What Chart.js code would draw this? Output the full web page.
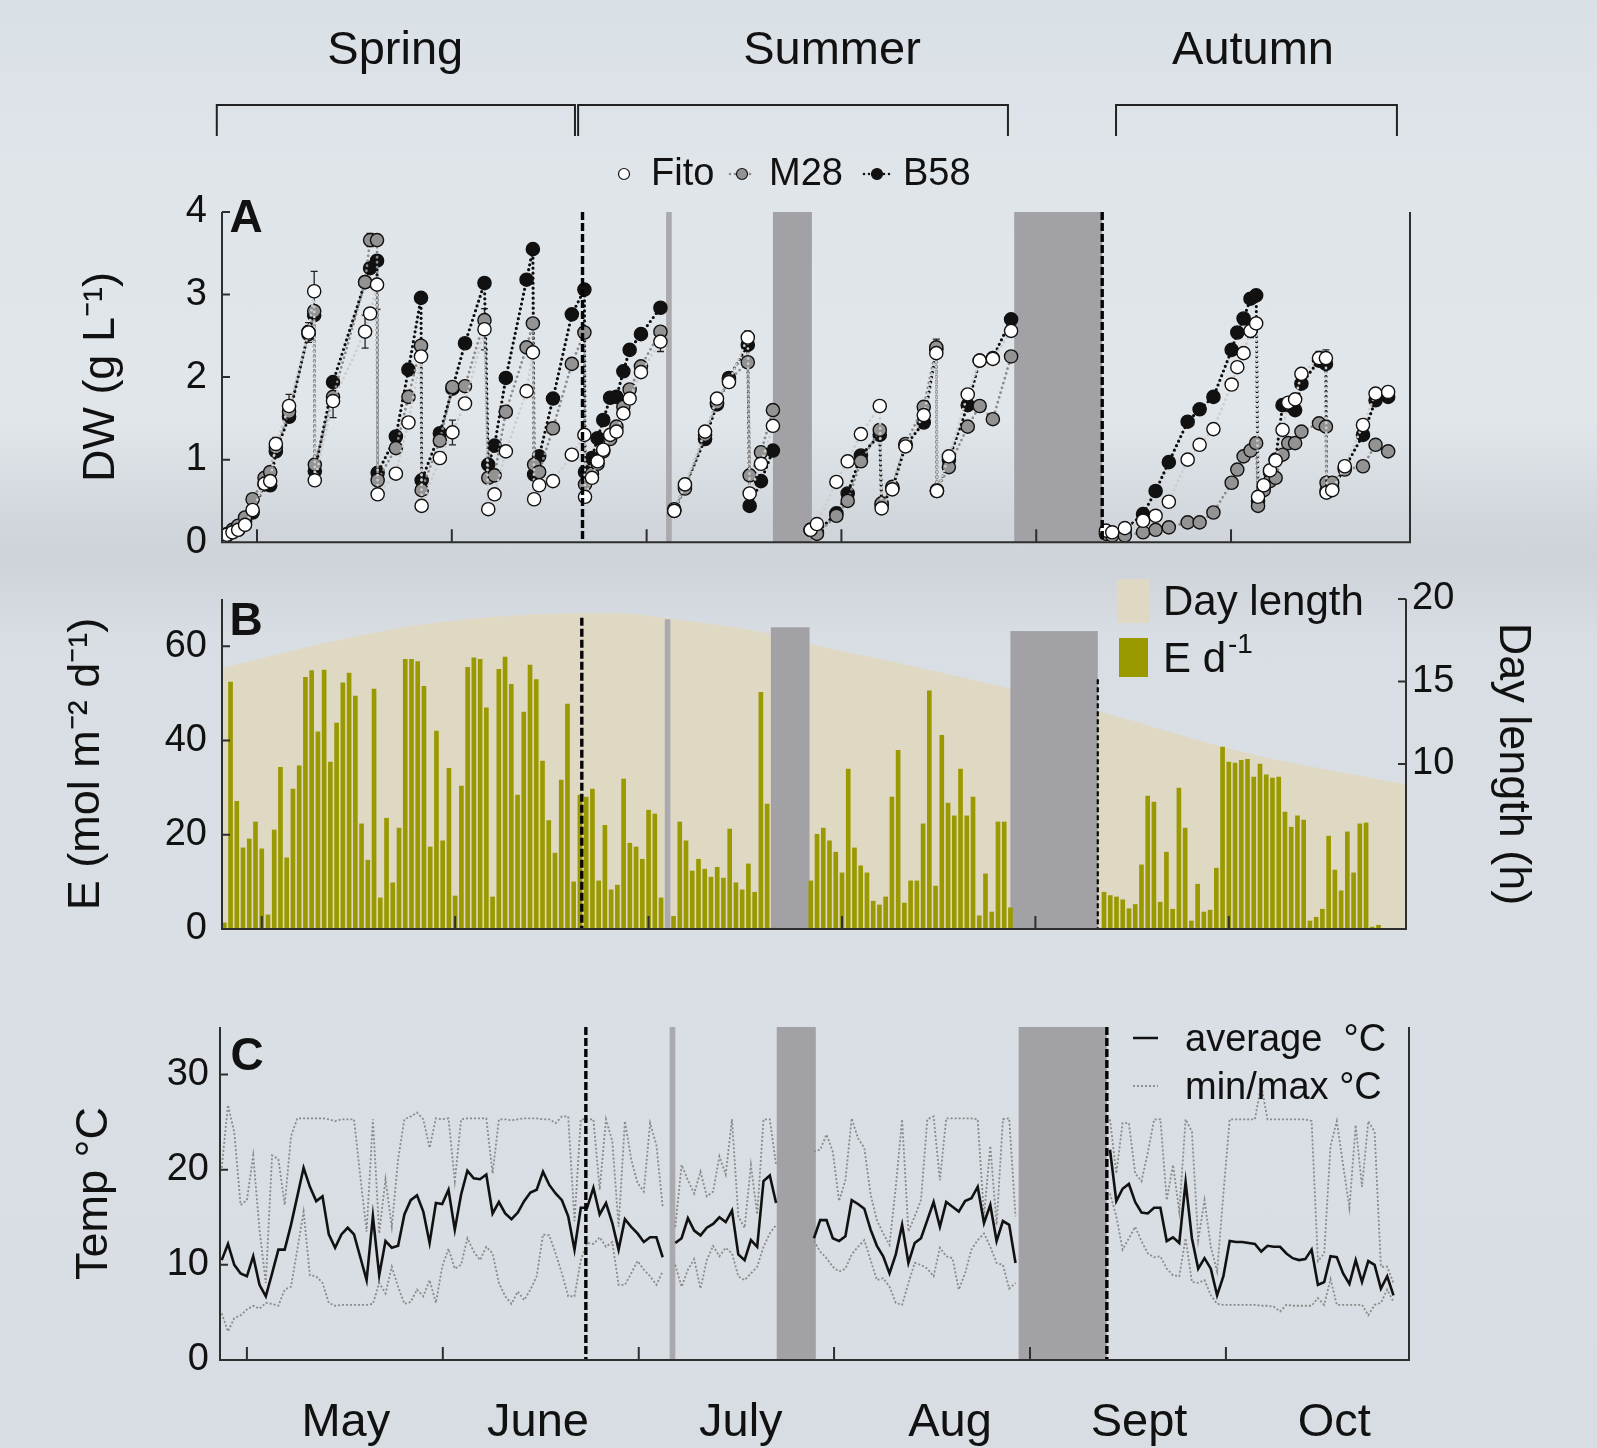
<!DOCTYPE html>
<html>
<head>
<meta charset="utf-8">
<title>DW, daily light and temperature</title>
<script src="https://cdn.jsdelivr.net/npm/chart.js@4.4.1/dist/chart.umd.min.js"></script>
<style>
html,body{margin:0;padding:0;}
body{width:1597px;height:1448px;overflow:hidden;position:relative;
background:linear-gradient(to bottom,#d9e0e6 0px,#e0e5ea 180px,#e1e6eb 420px,#d0d6db 525px,#cdd3d8 560px,#d8dee3 640px,#d9dfe4 1000px,#d7dde2 1448px);}
canvas{position:absolute;left:0;}
</style>
</head>
<body>
<canvas id="cA" width="1597" height="580" style="top:0px;width:1597px;height:580px"></canvas>
<canvas id="cB" width="1597" height="420" style="top:555px;width:1597px;height:420px"></canvas>
<canvas id="cC" width="1597" height="488" style="top:960px;width:1597px;height:488px"></canvas>
<script>
// ================= DATA =================
const seasons = ['Spring', 'Summer', 'Autumn'];
const seasonSpans = [[114.6, 171.6], [172.1, 240.5], [257.7, 302.4]];
const seasonLabelDays = [143.0, 212.5, 279.5];
const months = ['May', 'June', 'July', 'Aug', 'Sept', 'Oct'];
const monthLabelDays = [134.7, 165.2, 197.4, 230.6, 260.6, 291.6];
const monthTicksA = [121, 152, 183, 214, 245, 276];
const monthTicksB = [121.5, 152.5, 183.5, 214.5, 245.5, 276.5];
const monthTicksC = [119.0, 150.1, 181.2, 212.2, 243.3, 274.4];
const gapDays = [[186.1, 187.0], [203.1, 209.3], [241.5, 255.5]];
const gapTopsE = [65.7, 64.0, 63.2];
const dashedDays = [172.8, 255.5];

// Panel A: dry weight (g L-1)
const dwDays = [115.3,116.2,117.1,118.0,119.1,120.3,122.2,123.1,124.0,126.1,
 129.2,130.1,130.2,133.1,138.2,139.0,140.1,140.2,143.1,145.1,
 147.1,147.2,150.1,152.1,154.1,157.2,157.8,158.8,160.6,163.9,
 164.9,165.1,165.9,168.1,171.1,173.1,173.2,174.3,175.2,176.1,
 177.2,178.2,179.3,180.3,182.1,185.2,186.5,187.4,189.1,192.3,
 194.2,196.1,199.1,199.4,201.2,203.1,206.0,209.1,210.1,213.2,
 215.0,217.1,220.1,220.4,222.1,224.2,227.1,229.1,229.2,231.1,
 234.1,236.0,238.1,241.0,248.0,256.1,257.1,259.1,262.0,264.0,
 266.1,269.1,271.0,273.2,276.1,277.0,278.0,279.1,280.0,280.3,
 281.2,282.2,283.1,284.2,285.1,286.2,287.2,290.0,291.1,291.2,
 292.1,294.1,297.0,299.0,301.0];
const fito = [0.06,0.09,0.12,0.15,0.21,0.39,0.71,0.74,1.19,1.65,
 2.54,3.04,0.75,1.71,2.55,2.77,3.12,0.58,0.83,1.45,
 2.25,0.44,1.02,1.33,1.68,2.58,0.40,0.58,1.10,1.83,
 2.30,0.52,0.69,0.74,1.06,1.30,0.55,0.78,0.98,1.12,
 1.30,1.34,1.56,1.74,2.06,2.43,null,0.38,0.70,1.34,
 1.74,1.94,2.48,0.59,0.95,1.41,null,0.15,0.22,0.73,
 0.98,1.31,1.65,0.41,0.64,1.16,1.54,2.29,0.62,1.04,
 1.79,2.20,2.22,2.56,null,0.14,0.12,0.17,0.26,0.32,
 0.49,1.00,1.18,1.37,1.91,2.12,2.29,2.56,2.65,0.55,
 0.69,0.87,0.99,1.36,1.69,1.73,2.04,2.23,2.23,0.60,
 0.63,0.92,1.42,1.80,1.82];
const m28 = [0.06,0.10,0.15,0.20,0.30,0.52,0.78,0.85,1.15,1.58,
 2.52,2.80,0.94,1.76,3.15,3.66,3.66,0.75,1.14,1.76,
 2.38,0.63,1.23,1.88,1.89,2.69,0.78,0.81,1.58,2.36,
 2.65,0.94,0.85,1.38,2.16,2.54,0.70,0.83,0.95,1.10,
 1.25,1.40,1.64,1.85,2.13,2.55,null,0.40,0.65,1.30,
 1.69,1.96,2.18,0.81,1.09,1.60,null,0.15,0.10,0.32,
 0.50,0.98,1.36,0.47,0.67,1.19,1.64,2.36,0.63,0.91,
 1.40,1.65,1.49,2.25,null,0.10,0.08,0.08,0.12,0.15,
 0.18,0.24,0.24,0.36,0.72,0.88,1.04,1.11,1.20,0.44,
 0.63,0.74,0.78,1.06,1.20,1.20,1.34,1.44,1.40,0.72,
 0.72,0.88,0.92,1.18,1.10];
const b58 = [0.05,0.08,0.12,0.15,0.25,0.36,0.70,0.69,1.10,1.52,
 2.55,2.75,0.86,1.94,3.15,3.32,3.41,0.84,1.28,2.09,
 2.96,0.75,1.32,1.86,2.41,3.14,0.94,1.17,1.99,3.18,
 3.55,0.82,1.04,1.74,2.76,3.06,0.85,1.02,1.26,1.48,
 1.75,1.76,2.07,2.33,2.52,2.84,null,0.38,0.68,1.25,
 1.67,1.99,2.39,0.44,0.74,1.11,null,0.15,0.12,0.35,
 0.59,1.05,1.30,0.45,0.65,1.17,1.45,2.33,0.62,1.00,
 1.66,2.20,2.23,2.70,null,0.12,0.10,0.15,0.34,0.62,
 0.97,1.46,1.61,1.76,2.33,2.54,2.71,2.95,2.99,0.50,
 0.65,0.85,1.00,1.66,1.66,1.60,1.92,2.20,2.16,0.62,
 0.65,0.90,1.30,1.72,1.76];
const errFito = [[124.0,0.08],[126.1,0.14],[129.2,0.12],[130.1,0.24],[133.1,0.2],[138.2,0.2],[140.1,0.3],[152.1,0.15],[157.2,0.25],[185.2,0.12],[199.1,0.08],[276.1,0.06],[279.1,0.08],[280.0,0.06],[290.0,0.08],[291.1,0.1],[299.0,0.06],[301.0,0.06]];
const errM28 = [[139.0,0.08],[229.1,0.1]];
const errB58 = [[147.1,0.06],[280.0,0.07]];

// Panel B: daily light E (mol m-2 d-1), one bar per day from eStart
const eStart = 115.5;
const eValues = [1.3,52.4,27.1,17.2,19.1,22.7,17.0,3.0,21.0,34.3,
 15.1,29.7,34.6,53.4,54.8,41.8,54.9,35.4,43.7,52.2,
 54.3,49.4,22.3,14.6,50.9,6.6,23.5,9.8,21.4,57.2,
 57.2,56.7,51.5,17.4,42.0,18.7,34.1,7.0,30.3,55.5,
 57.5,57.2,46.9,6.8,55.1,57.7,51.9,28.4,46.0,56.0,
 52.9,35.6,23.0,16.1,31.6,47.7,10.0,28.4,28.0,29.7,
 10.2,22.0,8.3,9.3,31.8,18.2,17.4,14.8,25.2,24.4,
 6.6,null,2.7,22.7,18.7,12.3,14.8,12.7,11.0,13.1,
 10.8,21.2,9.8,8.3,13.8,7.8,50.2,26.5,0.2,null,
 null,null,null,null,10.2,20.1,21.4,18.7,16.3,11.9,
 33.9,17.2,13.4,11.9,5.9,5.1,6.8,28.0,37.9,5.5,
 10.2,10.2,22.3,50.5,9.1,41.1,26.7,24.0,33.9,24.0,
 28.0,2.8,11.7,3.6,22.7,22.7,4.5,null,null,null,
 null,null,null,null,null,null,null,null,null,null,
 null,7.8,7.1,6.8,6.2,4.3,5.2,13.6,28.2,26.9,
 5.7,16.3,4.2,29.9,21.4,1.7,9.5,3.6,4.0,12.9,
 38.6,35.4,35.2,35.8,36.0,32.2,35.0,32.7,32.0,32.2,
 24.8,21.6,24.0,23.1,1.7,2.5,4.2,19.7,12.5,8.1,
 20.6,11.9,22.3,22.5,0.4,0.8];
// Day length (h)
const dlDays  = [115, 130, 146, 162, 173, 178, 187, 203, 209, 225, 241, 256, 279, 305];
const dlHours = [15.8, 17.2, 18.4, 19.0, 19.15, 19.15, 18.8, 17.9, 17.3, 16.0, 14.6, 13.15, 10.7, 8.75];

// Panel C: temperature (deg C), one value per day from tStart
const tStart = 115;
const tAvg = [10.5,12.2,10.0,9.1,8.8,10.9,7.9,6.7,9.1,11.6,
 11.6,14.2,17.2,20.2,18.2,16.7,17.2,13.2,11.8,13.2,
 13.9,13.2,10.8,8.4,15.1,8.9,12.5,11.8,12.0,15.3,
 16.8,17.3,15.6,12.3,16.5,16.4,17.9,13.7,17.4,19.9,
 19.1,19.0,19.5,15.4,16.6,15.4,14.8,15.5,16.7,17.6,
 17.9,19.8,18.4,17.5,16.8,15.1,11.6,16.0,16.0,18.1,
 15.3,16.5,14.4,11.6,14.8,14.0,13.3,12.4,12.9,12.9,
 10.8,null,12.3,12.8,14.9,13.6,13.1,13.9,14.3,15.0,
 14.5,15.7,11.1,10.5,12.6,11.9,18.8,19.4,16.5,null,
 null,null,null,null,12.8,14.7,14.7,12.8,12.5,13.0,
 16.8,16.4,15.9,13.7,12.0,10.9,9.1,11.1,14.2,10.2,
 12.3,12.8,14.7,16.6,14.0,16.6,16.1,15.6,16.7,17.0,
 18.2,14.4,16.3,12.5,14.6,14.2,10.2,null,null,null,
 null,null,null,null,null,null,null,null,null,null,
 null,22.1,16.7,18.0,18.5,16.6,15.5,15.4,16.0,16.0,
 12.5,12.9,12.3,18.7,12.8,9.6,10.7,9.6,6.8,8.8,
 12.5,12.4,12.4,12.3,12.2,11.4,12.0,11.9,11.9,11.2,
 10.7,10.5,10.6,11.6,7.9,8.2,10.9,10.8,9.1,8.0,
 10.5,8.2,10.4,10.0,7.5,8.8,6.8];
const tMax = [20.2,26.8,23.9,16.3,16.8,21.5,13.7,8.1,21.5,21.1,
 16.3,23.5,25.4,25.4,25.4,25.4,25.4,25.3,25.1,25.3,
 25.3,25.3,19.3,13.5,25.3,13.3,19.0,14.0,21.1,25.3,
 25.6,26.0,25.3,22.3,25.4,25.3,25.4,18.8,25.3,25.4,
 25.4,25.4,25.4,19.6,25.3,25.3,25.2,25.3,25.4,25.4,
 25.4,25.3,25.3,24.9,25.6,25.6,14.6,25.3,25.3,25.3,
 17.9,25.3,23.0,14.0,25.1,21.1,18.6,17.7,24.9,22.6,
 16.1,null,14.0,20.5,18.9,17.5,19.8,17.2,17.7,21.4,
 19.5,25.3,15.1,13.9,20.5,15.3,25.3,25.3,20.5,null,
 null,null,null,null,21.9,22.1,23.7,21.9,16.7,18.9,
 25.4,23.3,22.3,17.4,14.7,13.3,12.1,18.2,25.3,13.5,
 15.1,16.8,25.3,25.6,18.9,25.4,25.4,25.4,25.4,25.4,
 25.3,15.1,22.5,14.2,25.3,25.4,15.1,null,null,null,
 null,null,null,null,null,null,null,null,null,null,
 null,25.3,19.6,24.9,24.9,19.6,18.8,21.8,25.3,25.3,
 16.8,20.5,15.6,25.3,24.0,12.6,16.8,11.9,9.3,17.5,
 25.3,25.3,25.3,25.3,25.3,28.9,25.3,25.3,25.3,25.3,
 25.3,25.3,25.3,25.1,10.4,11.2,22.5,25.1,20.5,16.0,
 24.7,18.2,25.1,24.0,9.8,9.8,8.1];
const tMin = [4.9,3.0,4.4,4.7,5.3,5.7,5.4,6.0,5.9,5.7,
 7.4,7.7,11.6,15.6,8.9,8.8,8.1,6.0,5.7,5.8,
 5.8,5.8,5.8,5.8,5.9,8.1,7.0,9.8,7.7,5.9,
 6.1,7.4,6.7,8.4,6.0,9.8,11.7,9.6,10.0,12.8,
 11.4,10.5,11.9,11.2,8.1,6.7,5.9,7.2,6.3,7.4,
 8.8,13.2,13.1,11.2,9.1,6.7,6.7,10.5,12.3,12.2,
 12.9,11.9,12.4,7.9,7.9,9.1,10.4,9.5,8.8,7.9,
 9.3,null,10.0,7.7,9.5,10.6,7.5,10.5,12.0,10.9,
 11.8,11.2,8.8,8.4,9.1,9.8,11.9,13.3,14.2,null,
 null,null,null,null,12.5,11.4,10.7,9.8,9.3,9.6,
 11.1,11.9,12.6,10.5,8.4,8.6,7.7,6.0,5.8,8.1,
 10.2,10.0,9.6,8.8,11.8,10.9,10.7,7.4,9.1,11.6,
 12.6,13.3,11.9,10.2,10.0,7.5,8.1,null,null,null,
 null,null,null,null,null,null,null,null,null,null,
 null,17.5,15.1,11.6,12.8,14.0,12.5,11.2,10.8,10.9,
 9.6,8.9,8.8,12.8,8.2,8.1,8.4,6.8,5.9,5.8,
 5.8,5.8,5.8,5.8,5.8,5.7,5.7,5.6,5.1,5.8,
 5.7,5.7,5.7,5.7,6.5,5.8,8.5,5.8,5.8,5.8,
 5.8,5.8,4.7,5.8,6.0,7.4,6.1];

// ================= HELPERS =================
const FONT = '"Liberation Sans", Arial, Helvetica, sans-serif';
const INK = '#111111';
const pairs = (xs, ys) => xs.map((d, i) => ({x: d, y: ys[i]}));
const daily = (start, ys) => ys.map((v, i) => ({x: start + i, y: v}));

function txt(ctx, s, x, y, font, align, base, color) {
  ctx.font = font; ctx.textAlign = align || 'center'; ctx.textBaseline = base || 'middle';
  ctx.fillStyle = color || INK; ctx.fillText(s, x, y);
}
function circle(ctx, x, y, r, fill) {
  ctx.beginPath(); ctx.arc(x, y, r, 0, Math.PI * 2); ctx.fillStyle = fill; ctx.fill();
  ctx.lineWidth = 1.2; ctx.strokeStyle = INK; ctx.setLineDash([]); ctx.stroke();
}

function drawGaps(chart, o) {
  const {ctx, chartArea: ca} = chart; const x = chart.scales.x, y = chart.scales.y;
  ctx.save();
  gapDays.forEach((g, i) => {
    const x0 = x.getPixelForValue(g[0]), x1 = x.getPixelForValue(g[1]);
    const top = o.gapTops ? y.getPixelForValue(o.gapTops[i]) : ca.top;
    ctx.fillStyle = i === 0 ? '#aaa9ae' : '#a2a1a6';
    ctx.fillRect(x0, top, x1 - x0, ca.bottom - top);
  });
  ctx.restore();
}
function drawDashed(chart, o) {
  const {ctx, chartArea: ca} = chart; const x = chart.scales.x, y = chart.scales.y;
  ctx.save(); ctx.strokeStyle = '#050505'; ctx.lineCap = 'butt';
  dashedDays.forEach((d, i) => {
    const st = o.dash[i]; const px = x.getPixelForValue(d);
    const top = st.top != null ? y.getPixelForValue(st.top) : ca.top;
    ctx.lineWidth = st.w; ctx.setLineDash(st.pattern);
    ctx.beginPath(); ctx.moveTo(px, top); ctx.lineTo(px, ca.bottom); ctx.stroke();
  });
  ctx.restore();
}
function drawFrame(chart, o) {
  const {ctx, chartArea: ca} = chart; const x = chart.scales.x, y = chart.scales.y;
  ctx.save(); ctx.strokeStyle = '#2e2e2e'; ctx.lineWidth = 2; ctx.setLineDash([]);
  ctx.beginPath();
  ctx.moveTo(ca.left, ca.top); ctx.lineTo(ca.left, ca.bottom); ctx.lineTo(ca.right, ca.bottom); ctx.lineTo(ca.right, ca.top);
  o.xTicks.forEach(v => { const px = x.getPixelForValue(v); ctx.moveTo(px, ca.bottom); ctx.lineTo(px, ca.bottom - 13); });
  y.ticks.forEach(t => { const py = y.getPixelForValue(t.value); ctx.moveTo(ca.left, py); ctx.lineTo(ca.left + 8, py); });
  if (chart.scales.y2) {
    const y2 = chart.scales.y2;
    y2.ticks.forEach(t => { const py = y2.getPixelForValue(t.value); ctx.moveTo(ca.right, py); ctx.lineTo(ca.right - 8, py); });
  }
  ctx.stroke(); ctx.restore();
}
function drawErr(chart) {
  const {ctx} = chart; const x = chart.scales.x, y = chart.scales.y;
  ctx.save(); ctx.strokeStyle = '#222'; ctx.lineWidth = 1.3; ctx.setLineDash([]);
  [[errFito, fito], [errM28, m28], [errB58, b58]].forEach(([errs, vals]) => {
    errs.forEach(([d, sd]) => {
      const i = dwDays.indexOf(d); if (i < 0 || vals[i] == null) return;
      const px = x.getPixelForValue(d), p1 = y.getPixelForValue(vals[i] + sd), p0 = y.getPixelForValue(vals[i] - sd);
      ctx.beginPath(); ctx.moveTo(px, p0); ctx.lineTo(px, p1);
      ctx.moveTo(px - 3.5, p1); ctx.lineTo(px + 3.5, p1); ctx.moveTo(px - 3.5, p0); ctx.lineTo(px + 3.5, p0); ctx.stroke();
    });
  });
  ctx.restore();
}

function extrasA(chart, o) {
  const {ctx} = chart; const x = chart.scales.x; const T = o.top;
  ctx.save();
  seasons.forEach((s, i) => {
    txt(ctx, s, x.getPixelForValue(seasonLabelDays[i]), 51 - T, '47px ' + FONT);
    const a = x.getPixelForValue(seasonSpans[i][0]), b = x.getPixelForValue(seasonSpans[i][1]);
    ctx.strokeStyle = '#222'; ctx.lineWidth = 2; ctx.setLineDash([]);
    ctx.beginPath(); ctx.moveTo(a, 136 - T); ctx.lineTo(a, 105 - T); ctx.lineTo(b, 105 - T); ctx.lineTo(b, 136 - T); ctx.stroke();
  });
  const ly = 174 - T;
  ctx.lineCap = 'round'; ctx.lineWidth = 2.6; ctx.setLineDash([0, 5]);
  ctx.strokeStyle = '#8c8c8c'; ctx.beginPath(); ctx.moveTo(730, ly); ctx.lineTo(754, ly); ctx.stroke();
  ctx.strokeStyle = '#111'; ctx.beginPath(); ctx.moveTo(864, ly); ctx.lineTo(890, ly); ctx.stroke();
  ctx.lineCap = 'butt';
  circle(ctx, 624, ly, 5.5, '#ffffff'); txt(ctx, 'Fito', 651, ly + 1, '38px ' + FONT, 'left');
  circle(ctx, 742, ly, 5.5, '#939393'); txt(ctx, 'M28', 769, ly + 1, '38px ' + FONT, 'left');
  circle(ctx, 877, ly, 5.5, '#111111'); txt(ctx, 'B58', 903, ly + 1, '38px ' + FONT, 'left');
  txt(ctx, 'A', 246, 219 - T, 'bold 46px ' + FONT);
  ctx.restore();
}
function extrasB(chart, o) {
  const {ctx} = chart; const T = o.top;
  ctx.save();
  ctx.fillStyle = '#dfd9c4'; ctx.fillRect(1117, 579 - T, 33, 44);
  txt(ctx, 'Day length', 1163, 603 - T, '42px ' + FONT, 'left');
  ctx.fillStyle = '#9a9900'; ctx.fillRect(1119, 638 - T, 29, 39);
  txt(ctx, 'E d', 1163, 660 - T, '42px ' + FONT, 'left');
  ctx.font = '42px ' + FONT; const w = ctx.measureText('E d').width;
  txt(ctx, '-1', 1163 + w + 2, 645 - T, '28px ' + FONT, 'left');
  txt(ctx, 'B', 246, 622 - T, 'bold 46px ' + FONT);
  ctx.restore();
}
function extrasC(chart, o) {
  const {ctx} = chart; const T = o.top;
  ctx.save();
  ctx.strokeStyle = '#111'; ctx.lineWidth = 2.5; ctx.setLineDash([]);
  ctx.beginPath(); ctx.moveTo(1133, 1038 - T); ctx.lineTo(1158, 1038 - T); ctx.stroke();
  txt(ctx, 'average  \u00B0C', 1185, 1041 - T, '38px ' + FONT, 'left');
  ctx.strokeStyle = '#8a8a8a'; ctx.lineWidth = 1.8; ctx.setLineDash([2, 2]);
  ctx.beginPath(); ctx.moveTo(1133, 1086 - T); ctx.lineTo(1158, 1086 - T); ctx.stroke();
  txt(ctx, 'min/max \u00B0C', 1185, 1089 - T, '38px ' + FONT, 'left');
  txt(ctx, 'C', 247, 1057 - T, 'bold 46px ' + FONT);
  ctx.restore();
}

const cfg = {
  cA: {top: 0, gapsBehind: true, err: true, xTicks: monthTicksA,
       dash: [{w: 3.4, pattern: [8, 3]}, {w: 3.4, pattern: [8, 3]}], extras: extrasA},
  cB: {top: 555, gapsAfterIndex: 1, gapTops: gapTopsE, xTicks: monthTicksB,
       dash: [{w: 3.4, pattern: [8, 3], top: 66}, {w: 2.2, pattern: [5, 3], top: 53}], extras: extrasB},
  cC: {top: 960, gapsBehind: true, xTicks: monthTicksC,
       dash: [{w: 3.4, pattern: [8, 3]}, {w: 3.4, pattern: [8, 3]}], extras: extrasC}
};

const decor = {
  id: 'decor',
  beforeDatasetsDraw(chart) {
    const o = cfg[chart.canvas.id];
    if (o.gapsBehind) drawGaps(chart, o);
    if (o.err) drawErr(chart);
  },
  afterDatasetDraw(chart, args) {
    const o = cfg[chart.canvas.id];
    if (o.gapsAfterIndex === args.index) drawGaps(chart, o);
  },
  afterDatasetsDraw(chart) {
    const o = cfg[chart.canvas.id];
    drawDashed(chart, o); drawFrame(chart, o); o.extras(chart, o);
  }
};

const tickFont = {family: FONT, size: 38};
const titleFont = {family: FONT, size: 45, lineHeight: 1.2};
const noGrid = {display: false, drawTicks: false};
const noBorder = {display: false};
function yAxis(min, max, vals, width, pad, title, tpad, pos) {
  return {
    type: 'linear', min: min, max: max, position: pos || 'left',
    afterBuildTicks: s => { s.ticks = vals.map(v => ({value: v})); },
    afterFit: s => { s.width = width; },
    grid: noGrid, border: noBorder,
    ticks: {font: tickFont, color: INK, padding: pad},
    title: {display: true, text: title, font: titleFont, color: INK, padding: {top: tpad, bottom: 0}}
  };
}
const common = {
  responsive: false, animation: false, events: [],
  plugins: {legend: {display: false}, tooltip: {enabled: false}}
};

// ================= PANEL A =================
const dotLine = (color, w) => ({borderColor: color, borderWidth: w, borderDash: [0, 5], borderCapStyle: 'round',
  pointRadius: 6.6, pointBorderColor: INK, pointBorderWidth: 1.4, spanGaps: false, tension: 0});
new Chart(document.getElementById('cA'), {
  type: 'line',
  data: {datasets: [
    Object.assign({label: 'Fito', data: pairs(dwDays, fito), pointBackgroundColor: '#ffffff'}, dotLine('#cdcdcd', 2.8)),
    Object.assign({label: 'M28', data: pairs(dwDays, m28), pointBackgroundColor: '#939393'}, dotLine('#8a8a8a', 2.8)),
    Object.assign({label: 'B58', data: pairs(dwDays, b58), pointBackgroundColor: '#111111'}, dotLine('#0d0d0d', 3.2))
  ]},
  options: Object.assign({}, common, {
    layout: {autoPadding: false, padding: {top: 212, bottom: 35, left: 0, right: 187}},
    scales: {
      x: {type: 'linear', min: 115.43, max: 304.48, display: false},
      y: yAxis(0, 4, [0, 1, 2, 3, 4], 222, 15, 'DW (g L\u207B\u00B9)', 75)
    }
  }),
  plugins: [decor]
});

// ================= PANEL B =================
new Chart(document.getElementById('cB'), {
  type: 'bar',
  data: {datasets: [
    {type: 'bar', label: 'E d-1', data: daily(eStart, eValues), backgroundColor: '#9a9900', borderWidth: 0,
     barThickness: 4, yAxisID: 'y', order: 1},
    {type: 'line', label: 'Day length', data: pairs(dlDays, dlHours), yAxisID: 'y2', fill: 'start',
     backgroundColor: '#dfd9c4', borderWidth: 0, pointRadius: 0, cubicInterpolationMode: 'monotone', order: 2}
  ]},
  options: Object.assign({}, common, {
    layout: {autoPadding: false, padding: {top: 44, bottom: 46, left: 0, right: 0}},
    scales: {
      x: {type: 'linear', min: 115.13, max: 304.9, display: false, offset: false, grid: {offset: false}},
      y: yAxis(0, 70, [0, 20, 40, 60], 222, 15, 'E (mol m\u207B\u00B2 d\u207B\u00B9)', 60),
      y2: yAxis(0, 20, [10, 15, 20], 191, 6, 'Day length (h)', 58, 'right')
    }
  }),
  plugins: [decor]
});

// ================= PANEL C =================
new Chart(document.getElementById('cC'), {
  type: 'line',
  data: {datasets: [
    {label: 'average \u00B0C', data: daily(tStart, tAvg), borderColor: '#111111', borderWidth: 2.6, pointRadius: 0, spanGaps: false, tension: 0},
    {label: 'max \u00B0C', data: daily(tStart, tMax), borderColor: '#8a8a8a', borderWidth: 1.8, borderDash: [2, 2], pointRadius: 0, spanGaps: false, tension: 0},
    {label: 'min \u00B0C', data: daily(tStart, tMin), borderColor: '#8a8a8a', borderWidth: 1.8, borderDash: [2, 2], pointRadius: 0, spanGaps: false, tension: 0}
  ]},
  options: Object.assign({}, common, {
    layout: {autoPadding: false, padding: {top: 67, bottom: 0, left: 0, right: 188}},
    scales: {
      x: {type: 'linear', min: 114.73, max: 303.46, position: 'bottom',
          afterBuildTicks: s => { s.ticks = monthLabelDays.map(v => ({value: v})); },
          afterFit: s => { s.height = 88; },
          grid: noGrid, border: noBorder,
          ticks: {font: {family: FONT, size: 47}, color: INK, padding: 35, autoSkip: false, maxRotation: 0,
                  callback: (v, i) => months[i]}},
      y: yAxis(0, 35, [0, 10, 20, 30], 220, 11, 'Temp \u00B0C', 68)
    }
  }),
  plugins: [decor]
});
</script>
</body>
</html>
